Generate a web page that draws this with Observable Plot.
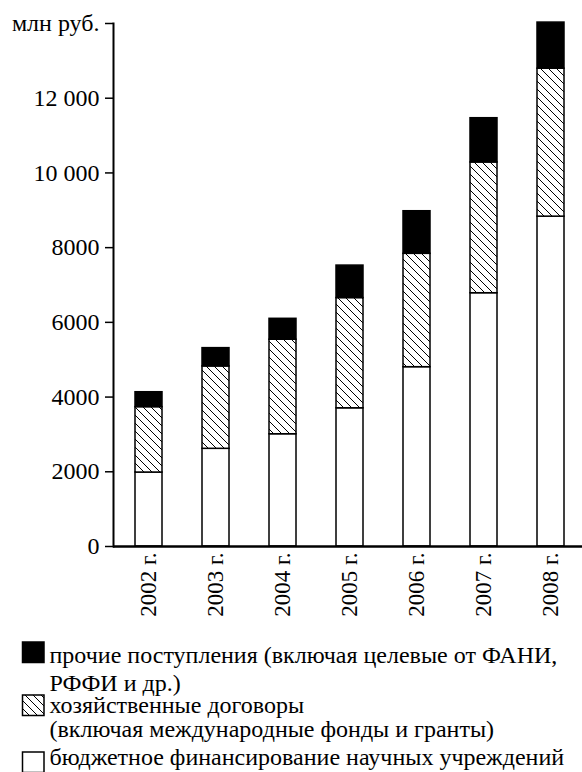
<!DOCTYPE html>
<html>
<head>
<meta charset="utf-8">
<script src="https://cdn.jsdelivr.net/npm/d3@7"></script>
<script src="https://cdn.jsdelivr.net/npm/@observablehq/plot@0.6"></script>
<style>
  html, body { margin: 0; padding: 0; background: #fff; }
  body { width: 582px; height: 772px; overflow: hidden; font-family: 'Liberation Serif', serif; color: #000; }
  svg { display: block; }
</style>
</head>
<body>
<div id="chart"></div>
<div id="legend"></div>
<script>
// ---- data ----
const years = ["2002", "2003", "2004", "2005", "2006", "2007", "2008"];
const budget = [1980, 2615, 3005, 3700, 4800, 6780, 8830];        // бюджетное финансирование
const contracts = [1750, 2205, 2530, 2950, 3035, 3500, 3960];     // хозяйственные договоры
const other = [400, 490, 560, 870, 1140, 1185, 1235];             // прочие поступления
const seriesNames = ["бюджетное финансирование научных учреждений", "хозяйственные договоры", "прочие поступления"];
const yTicks = [0, 2000, 4000, 6000, 8000, 10000, 12000, 14000];
const yTickLabels = ["0", "2000", "4000", "6000", "8000", "10 000", "12 000", "млн руб."];
const legendLines = [
  ["прочие поступления (включая целевые от ФАНИ,", "РФФИ и др.)"],
  ["хозяйственные договоры", "(включая международные фонды и гранты)"],
  ["бюджетное финансирование научных учреждений"]
];

const seriesValues = [budget, contracts, other];
const table = [];
seriesNames.forEach((s, i) => years.forEach((y, j) => table.push({year: y, series: s, value: seriesValues[i][j]})));

const FONT = "'Liberation Serif', serif";
const W = 582, H = 630, mL = 113, mT = 23, mB = 84;

const plot = Plot.plot({
  width: W,
  height: H,
  marginLeft: mL,
  marginRight: 0,
  marginTop: mT,
  marginBottom: mB,
  style: {fontFamily: FONT, fontSize: "24px", color: "#000", background: "#fff"},
  x: {domain: years, range: [mL, W + 4], paddingInner: 0.6, paddingOuter: 0.3, label: null},
  y: {domain: [0, 14000], label: null},
  color: {domain: seriesNames, range: ["#fff", "url(#hatch)", "#000"]},
  marks: [
    Plot.barY(table, {x: "year", y: "value", fill: "series", stroke: "#000", strokeWidth: 1.5}),
    Plot.axisY({ticks: yTicks, tickSize: 8, tickPadding: 6, fontSize: 24, tickFormat: d => yTickLabels[yTicks.indexOf(d)], label: null, strokeWidth: 1.5}),
    Plot.axisX({tickSize: 0, tickPadding: 6, fontSize: 23, tickRotate: -90, tickFormat: d => d + " г.", label: null}),
    Plot.frame({anchor: "left", strokeWidth: 2}),
    Plot.ruleY([0], {strokeWidth: 2.5})
  ]
});

// add hatch pattern
const ns = "http://www.w3.org/2000/svg";
const defs = document.createElementNS(ns, "defs");
defs.innerHTML = `<pattern id="hatch" patternUnits="userSpaceOnUse" width="8" height="8">
  <rect width="8" height="8" fill="#fff"/>
  <path d="M0,0 L8,8 M-2,6 L2,10 M6,-2 L10,2" stroke="#000" stroke-width="1"/></pattern>`;
plot.insertBefore(defs, plot.firstChild);
document.getElementById("chart").appendChild(plot);

// legend (below the plot)
const LH = 772 - H;
const leg = d3.select("#legend").append("svg").attr("width", W).attr("height", LH)
  .style("font-family", FONT).style("font-size", "24px");
const swatchFill = ["#000", "url(#hatch)", "#fff"];
const swatchTop = [12, 65, 122];        // relative to legend top
const baselines = [[33, 61], [83, 107], [135]];
legendLines.forEach((lines, i) => {
  leg.append("rect").attr("x", 22.5).attr("y", swatchTop[i]).attr("width", 21.5).attr("height", 20.5)
    .attr("fill", swatchFill[i]).attr("stroke", "#000").attr("stroke-width", 1.5);
  lines.forEach((l, k) => {
    leg.append("text").attr("x", 49.5).attr("y", baselines[i][k]).attr("fill", "#000").text(l);
  });
});
</script>
</body>
</html>
